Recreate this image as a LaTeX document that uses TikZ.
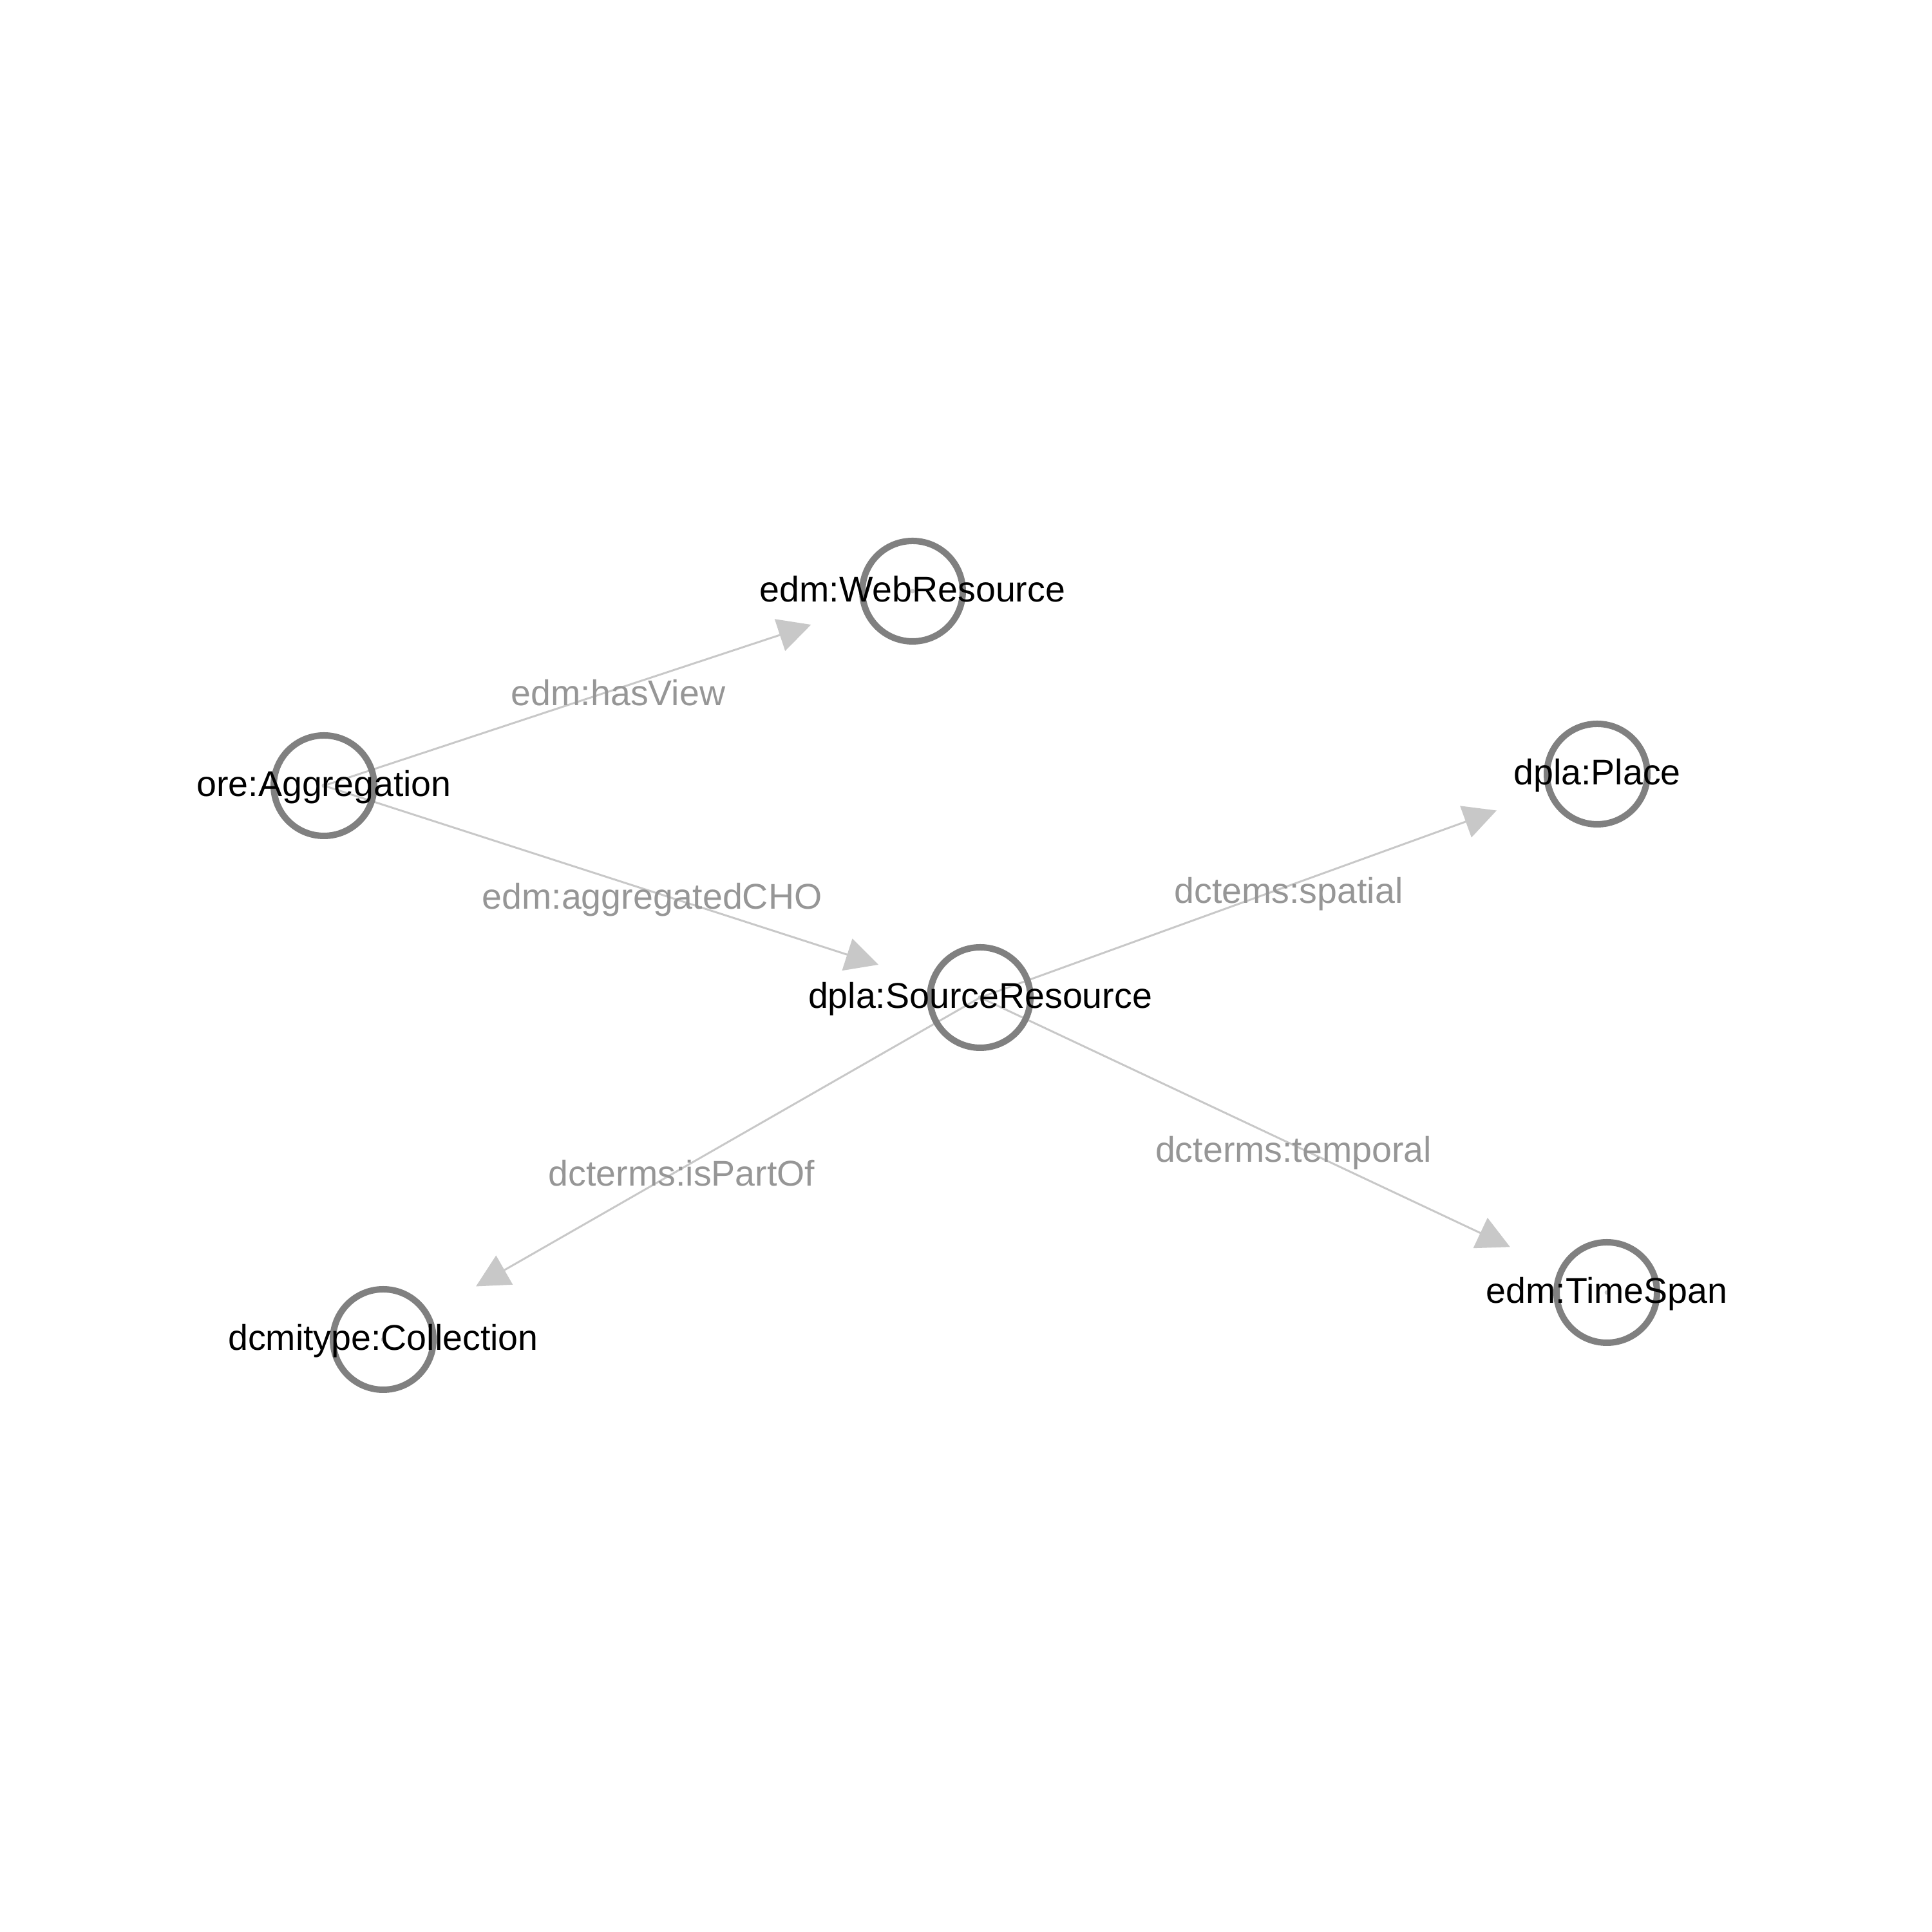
\documentclass[tikz,border=0pt]{standalone}
\usepackage{fontspec}
\setmainfont{Liberation Sans}
\usetikzlibrary{arrows.meta,calc}
\definecolor{ringgray}{RGB}{128,128,128}
\definecolor{edgegray}{RGB}{200,200,200}
\definecolor{labelgray}{RGB}{150,150,150}
\begin{document}
\begin{tikzpicture}[
  ring/.style={circle, line width=0.1cm, minimum size=1.56cm, inner sep=0pt},
  hub/.style={circle, fill=edgegray, minimum size=0.07cm, inner sep=0pt},
  edgeline/.style={draw=edgegray, line width=0.03cm, -{Triangle[length=0.51cm,width=0.515cm]}},
  nlabel/.style={font=\fontsize{15.8}{18}\selectfont, text=black, anchor=base, inner sep=0pt, yshift=-0.17cm},
  elabel/.style={font=\fontsize{15.8}{18}\selectfont, text=labelgray, anchor=base, inner sep=0pt, yshift=-0.27cm}
]
\useasboundingbox (0,0) rectangle (30,30);
% node positions (rings drawn after the edges)
\node[ring] (agg)   at (5.03,17.80) {};
\node[ring] (web)   at (14.17,20.82) {};
\node[ring] (src)   at (15.22,14.51) {};
\node[ring] (place) at (24.80,17.98) {};
\node[ring] (time)  at (24.95,9.93) {};
\node[ring] (coll)  at (5.95,9.20) {};
% edges
\draw[edgeline] (agg.center) -- ($(web.center)!1.66cm!(agg.center)$);
\draw[edgeline] (agg.center) -- ($(src.center)!1.66cm!(agg.center)$);
\draw[edgeline] (src.center) -- ($(place.center)!1.66cm!(src.center)$);
\draw[edgeline] (src.center) -- ($(coll.center)!1.66cm!(src.center)$);
\draw[edgeline] (src.center) -- ($(time.center)!1.66cm!(src.center)$);
% rings on top of edges
\foreach \n in {agg,web,src,place,time,coll}{
  \draw[ringgray, line width=0.1cm] (\n.center) circle (0.78cm);
  \node[hub] at (\n.center) {};
}
% edge labels
\path (agg.center) -- node[elabel] (l1) {edm:hasView} (web.center);
\path (agg.center) -- node[elabel] (l2) {edm:aggregatedCHO} (src.center);
\path (src.center) -- node[elabel] (l3) {dctems:spatial} (place.center);
\path (src.center) -- node[elabel] (l4) {dcterms:isPartOf} (coll.center);
\path (src.center) -- node[elabel] (l5) {dcterms:temporal} (time.center);
% node labels
\node[nlabel] (t1) at (agg.center)   {ore:Aggregation};
\node[nlabel] (t2) at (web.center)   {edm:WebResource};
\node[nlabel] (t3) at (src.center)   {dpla:SourceResource};
\node[nlabel] (t4) at (place.center) {dpla:Place};
\node[nlabel] (t5) at (time.center)  {edm:TimeSpan};
\node[nlabel] (t6) at (coll.center)  {dcmitype:Collection};
\end{tikzpicture}
\end{document}
